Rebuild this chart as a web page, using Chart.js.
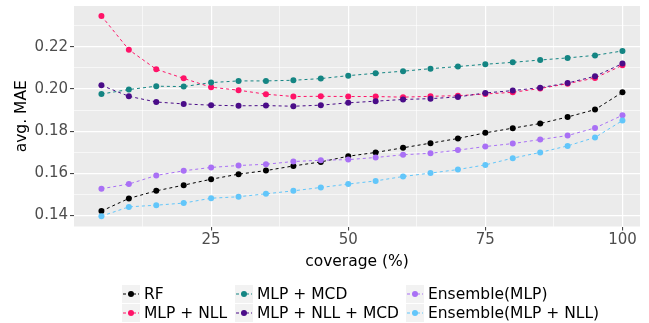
<!DOCTYPE html>
<html>
<head>
<meta charset="utf-8">
<script src="https://cdn.jsdelivr.net/npm/chart.js@4"></script>
<style>
  html, body { margin: 0; padding: 0; background: #ffffff; }
  #wrap { position: relative; width: 649px; height: 323px; }
  #c { position: absolute; left: 0; top: 0; }
  #legend { position: absolute; left: 122px; top: 284px; display: grid;
    grid-template-rows: 19px 19px; grid-auto-flow: column;
    grid-template-columns: 113px 171px auto; font-family: 'DejaVu Sans', sans-serif;
    font-size: 15.5px; color: #000; }
  .item { display: flex; align-items: center; height: 19px; white-space: nowrap; }
  .key { width: 18px; height: 18px; background: #F2F2F2; margin-right: 4px; flex: none; }
</style>
</head>
<body>
<div id="wrap">
  <canvas id="c" width="649" height="323"></canvas>
  <div id="legend"></div>
</div>
<script>
const coverage = [5,10,15,20,25,30,35,40,45,50,55,60,65,70,75,80,85,90,95,100];
const rf = [0.1421,0.1481,0.1517,0.1544,0.1572,0.1596,0.1613,0.1635,0.1654,0.1681,0.1699,0.1721,0.1743,0.1765,0.1792,0.1814,0.1836,0.1867,0.1902,0.1984];
const mlpNll = [0.2346,0.2186,0.2093,0.2050,0.2008,0.1994,0.1975,0.1964,0.1965,0.1964,0.1964,0.1961,0.1965,0.1968,0.1976,0.1984,0.2002,0.2025,0.2052,0.2112];
const mlpMcd = [0.1976,0.1997,0.2013,0.2011,0.2030,0.2038,0.2038,0.2041,0.2049,0.2063,0.2074,0.2084,0.2096,0.2106,0.2117,0.2126,0.2137,0.2147,0.2159,0.2180];
const mlpNllMcd = [0.2017,0.1965,0.1938,0.1929,0.1923,0.1920,0.1921,0.1918,0.1923,0.1934,0.1942,0.1950,0.1954,0.1962,0.1981,0.1992,0.2006,0.2028,0.2060,0.2120];
const ensMlp = [0.1527,0.1549,0.1590,0.1612,0.1628,0.1637,0.1643,0.1656,0.1662,0.1665,0.1675,0.1688,0.1695,0.1710,0.1727,0.1741,0.1760,0.1779,0.1815,0.1875];
const ensMlpNll = [0.1397,0.1441,0.1449,0.1459,0.1482,0.1489,0.1503,0.1517,0.1533,0.1549,0.1564,0.1585,0.1601,0.1618,0.1640,0.1672,0.1699,0.1730,0.1770,0.1850];
const xTicks = [0, 25, 50, 75, 100];
const yTicks = [0.14, 0.16, 0.18, 0.20, 0.22];

const seriesNames = ['RF','MLP + NLL','MLP + MCD','MLP + NLL + MCD','Ensemble(MLP)','Ensemble(MLP + NLL)'];
const seriesData = [rf, mlpNll, mlpMcd, mlpNllMcd, ensMlp, ensMlpNll];
const seriesColors = ['#000000','#ff1368','#148583','#4a0c88','#a970f5','#62c6fa'];

const datasets = seriesNames.map((n, i) => ({
  label: n,
  data: coverage.map((x, j) => ({x: x, y: seriesData[i][j]})),
  borderColor: seriesColors[i],
  backgroundColor: seriesColors[i],
  borderWidth: 1,
  borderDash: [3, 3],
  pointRadius: 3,
  pointBorderWidth: 0,
  pointHoverRadius: 3,
  tension: 0,
  order: 6 - i
}));

const bgPlugin = {
  id: 'panelBg',
  beforeDraw(chart) {
    const {ctx, chartArea: a} = chart;
    ctx.save();
    ctx.fillStyle = '#EBEBEB';
    ctx.fillRect(a.left, a.top, a.right - a.left, a.bottom - a.top);
    ctx.restore();
  }
};

const isMajorX = v => xTicks.some(t => Math.abs(t - v) < 1e-6);
const isMajorY = v => yTicks.some(t => Math.abs(t - v) < 1e-6);

new Chart(document.getElementById('c'), {
  type: 'line',
  data: { datasets },
  plugins: [bgPlugin],
  options: {
    responsive: false,
    animation: false,
    events: [],
    layout: { padding: { left: 13, right: 9, top: 6, bottom: 51.5 } },
    plugins: { legend: { display: false }, tooltip: { enabled: false } },
    scales: {
      x: {
        type: 'linear', min: 0, max: 103.2,
        afterBuildTicks: s => { s.ticks = [12.5,25,37.5,50,62.5,75,87.5,100].map(v => ({value: v})); },
        afterFit: s => { s.height = 45; s.paddingLeft = 0; s.paddingRight = 0; },
        border: { display: false },
        grid: {
          color: '#FFFFFF',
          lineWidth: c => isMajorX(c.tick.value) ? 1.2 : 0.6,
          tickColor: c => isMajorX(c.tick.value) ? '#333333' : 'rgba(0,0,0,0)',
          tickLength: 4,
          tickWidth: 1
        },
        ticks: {
          autoSkip: false, maxRotation: 0, padding: 1,
          color: '#4D4D4D', font: { family: 'DejaVu Sans', size: 15 },
          callback: v => isMajorX(v) ? String(v) : ''
        },
        title: { display: true, text: 'coverage (%)', color: '#000000',
          font: { family: 'DejaVu Sans', size: 15.5 }, padding: { top: 0, bottom: 0 } }
      },
      y: {
        type: 'linear', min: 0.1348, max: 0.2393,
        afterBuildTicks: s => { s.ticks = [14,15,16,17,18,19,20,21,22,23].map(i => ({value: i / 100})); },
        afterFit: s => { s.width = 61; s.paddingTop = 0; s.paddingBottom = 0; },
        border: { display: false },
        grid: {
          color: '#FFFFFF',
          lineWidth: c => isMajorY(c.tick.value) ? 1.2 : 0.6,
          tickColor: c => isMajorY(c.tick.value) ? '#333333' : 'rgba(0,0,0,0)',
          tickLength: 4,
          tickWidth: 1
        },
        ticks: {
          autoSkip: false, padding: 2,
          color: '#4D4D4D', font: { family: 'DejaVu Sans', size: 15 },
          callback: v => isMajorY(v) ? v.toFixed(2) : ''
        },
        title: { display: true, text: 'avg. MAE', color: '#000000',
          font: { family: 'DejaVu Sans', size: 15.5 }, padding: { top: 0, bottom: 0 } }
      }
    }
  }
});

const order = [0, 1, 2, 3, 4, 5];
const legend = document.getElementById('legend');
order.forEach(i => {
  const item = document.createElement('div');
  item.className = 'item';
  const c = seriesColors[i];
  item.innerHTML = '<div class="key"><svg width="18" height="18"><line x1="1" y1="9" x2="17" y2="9" stroke="' + c +
    '" stroke-width="1" stroke-dasharray="3,2"/><circle cx="9" cy="9" r="3" fill="' + c + '"/></svg></div><span>' +
    seriesNames[i] + '</span>';
  legend.appendChild(item);
});
</script>
</body>
</html>
